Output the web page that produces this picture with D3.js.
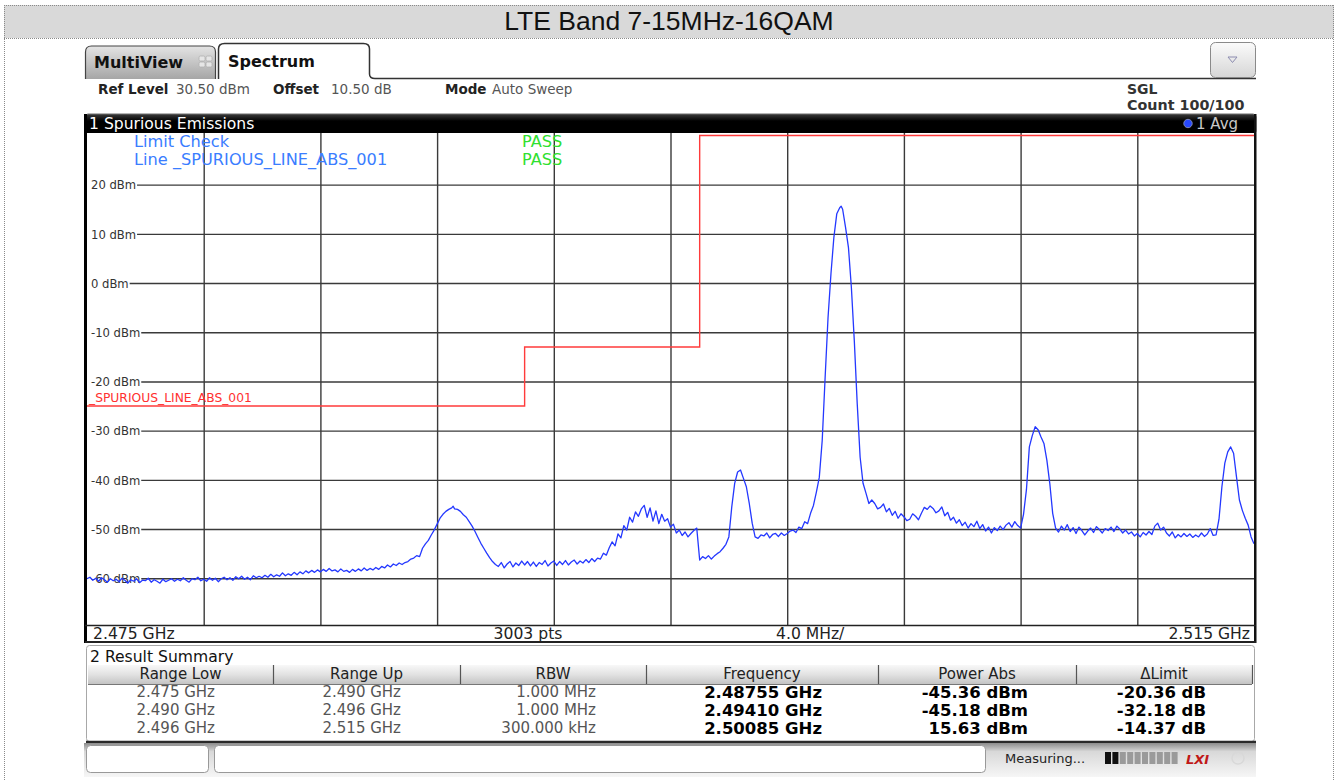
<!DOCTYPE html>
<html>
<head>
<meta charset="utf-8">
<script src="https://cdn.jsdelivr.net/npm/d3@7"></script>
<style>
  html, body { margin: 0; padding: 0; background: #fff; }
  svg { display: block; }
  text { font-family: "DejaVu Sans", Verdana, sans-serif; }
</style>
</head>
<body>
<svg id="chart" width="1338" height="781"></svg>
<script>
// ---- measurement settings ----
const chartTitle = "LTE Band 7-15MHz-16QAM";
const freqStartMHz = 2475;
const freqStopMHz = 2515;
const freqDivMHz = 4;
const sweepPoints = 3003;
const refLevelDbm = 30.5;
const dbPerDiv = 10;
const levelTicks = [20, 10, 0, -10, -20, -30, -40, -50, -60];

// limit line: [start MHz, stop MHz, limit dBm]
const limitSegments = [[2475, 2490, -25], [2490, 2496, -13], [2496, 2515, 30]];
const limitLineName = "_SPURIOUS_LINE_ABS_001";

// averaged trace, 0.1 MHz spacing from 2475.0 MHz (one row per MHz)
const traceStepMHz = 0.1;
const traceLevels = [
  -60.1,-59.8,-60.4,-60.0,-60.6,-59.9,-60.3,-60.8,-60.1,-60.5, // 2475
  -60.2,-60.7,-60.0,-60.4,-61.0,-60.3,-60.6,-60.1,-60.9,-60.4, // 2476
  -60.5,-60.0,-60.8,-60.3,-60.6,-61.0,-60.2,-60.7,-60.4,-60.1, // 2477
  -60.6,-60.2,-60.5,-59.9,-60.4,-60.8,-60.1,-60.3,-59.8,-60.5, // 2478
  -60.2,-60.6,-59.9,-60.4,-60.0,-60.7,-60.1,-59.8,-60.3,-59.9, // 2479
  -60.4,-59.7,-60.1,-59.6,-60.2,-59.8,-60.3,-59.5,-59.9,-59.6, // 2480
  -59.9,-59.4,-59.8,-59.2,-59.7,-59.3,-59.6,-58.9,-59.5,-59.1, // 2481
  -59.4,-58.8,-59.3,-58.7,-59.1,-58.5,-58.9,-58.4,-58.8,-58.3, // 2482
  -58.7,-58.2,-58.6,-58.0,-58.5,-58.3,-58.7,-58.1,-58.6,-58.4, // 2483
  -58.8,-58.2,-58.6,-58.1,-58.5,-57.9,-58.4,-58.0,-58.3,-57.8, // 2484
  -58.2,-57.6,-57.9,-57.3,-57.7,-57.1,-57.4,-56.9,-57.2,-56.8, // 2485
  -56.6,-56.1,-55.9,-55.4,-55.6,-53.9,-53.0,-52.3,-51.2,-50.2, // 2486
  -49.0,-47.8,-47.0,-46.4,-46.0,-45.7,-45.9,-46.0,-46.4,-47.1, // 2487
  -47.6,-48.5,-49.4,-50.5,-51.7,-52.9,-53.9,-54.9,-55.8,-56.6, // 2488
  -57.2,-57.6,-56.8,-57.9,-57.1,-56.6,-57.7,-56.9,-57.4,-56.5, // 2489
  -57.3,-56.6,-57.5,-56.7,-57.6,-56.8,-57.2,-56.4,-57.5,-56.9, // 2490
  -56.5,-57.4,-56.6,-57.2,-56.4,-57.3,-56.7,-56.3,-57.1,-56.5, // 2491
  -56.9,-56.2,-56.8,-56.0,-56.6,-55.9,-56.1,-54.9,-55.3,-53.8, // 2492
  -52.6,-53.4,-51.0,-51.8,-49.3,-50.2,-47.6,-48.6,-46.5,-47.4, // 2493
  -45.9,-45.6,-47.6,-45.7,-48.4,-46.3,-48.9,-47.0,-48.4,-47.9, // 2494
  -49.6,-49.0,-50.8,-50.2,-51.3,-50.6,-51.6,-50.9,-50.3,-49.8, // 2495
  -56.3,-55.6,-56.0,-55.4,-56.1,-55.5,-55.0,-54.6,-53.9,-53.1, // 2496
  -51.6,-45.5,-40.7,-38.4,-38.0,-39.7,-41.4,-44.8,-48.8,-51.6, // 2497
  -51.9,-51.2,-51.4,-50.8,-51.8,-51.1,-50.9,-51.5,-50.8,-51.3, // 2498
  -50.9,-50.4,-50.2,-50.7,-49.6,-49.9,-48.5,-48.9,-46.8,-45.2, // 2499
  -42.5,-39.5,-32.0,-19.2,-7.0,1.9,9.3,14.1,15.3,15.0,          // 2500
  11.3,7.2,-0.9,-11.7,-24.5,-35.4,-40.7,-42.7,-44.8,-44.1,      // 2501
  -44.8,-45.9,-45.6,-44.9,-46.5,-45.8,-47.2,-46.4,-47.8,-46.9, // 2502
  -47.5,-48.3,-48.0,-46.9,-47.4,-48.1,-46.8,-45.6,-46.0,-45.3, // 2503
  -45.8,-46.7,-46.3,-45.5,-47.3,-46.6,-48.2,-47.6,-48.8,-48.1, // 2504
  -49.3,-48.6,-49.8,-48.9,-49.5,-48.4,-49.9,-49.1,-50.4,-49.6, // 2505
  -50.8,-49.7,-50.3,-49.4,-50.1,-49.2,-48.7,-49.6,-48.5,-49.3, // 2506
  -49.8,-47.0,-42.0,-33.3,-31.0,-29.2,-29.8,-31.3,-32.6,-36.0, // 2507
  -40.7,-46.8,-49.8,-50.6,-49.4,-50.2,-49.1,-50.5,-49.7,-50.9, // 2508
  -49.6,-50.3,-51.2,-50.4,-49.8,-50.7,-49.5,-50.1,-50.8,-49.9, // 2509
  -50.3,-49.6,-50.5,-49.4,-50.0,-50.8,-50.2,-51.0,-50.6,-51.4, // 2510
  -50.9,-51.6,-50.7,-51.2,-50.5,-51.1,-49.4,-48.8,-50.2,-49.6, // 2511
  -50.8,-51.4,-50.6,-51.8,-51.1,-51.6,-50.9,-51.5,-51.0,-51.7, // 2512
  -51.2,-51.6,-50.8,-51.5,-51.0,-49.9,-51.3,-51.2,-48.0,-41.4, // 2513
  -36.6,-34.3,-33.3,-34.6,-39.4,-44.1,-46.2,-47.8,-49.2,-51.6, // 2514
  -53.0                                                         // 2515
];

// result summary
const rangeLow = ["2.475 GHz", "2.490 GHz", "2.496 GHz"];
const rangeUp = ["2.490 GHz", "2.496 GHz", "2.515 GHz"];
const rbw = ["1.000 MHz", "1.000 MHz", "300.000 kHz"];
const peakFreqGHz = [2.48755, 2.49410, 2.50085];
const peakPowerDbm = [-45.36, -45.18, 15.63];
const deltaLimitDb = [-20.36, -32.18, -14.37];
const summaryHeaders = ["Range Low", "Range Up", "RBW", "Frequency", "Power Abs", "\u0394Limit"];

// ---- layout ----
const svg = d3.select("#chart");
const plot = { left: 87, right: 1254, top: 133, bottom: 625 };
const plotW = plot.right - plot.left, plotH = plot.bottom - plot.top;

const x = d3.scaleLinear().domain([freqStartMHz, freqStopMHz]).range([plot.left, plot.right]);
const y = d3.scaleLinear().domain([refLevelDbm - 10 * dbPerDiv, refLevelDbm]).range([plot.bottom, plot.top]);

const defs = svg.append("defs");
function vGrad(id, stops) {
  const g = defs.append("linearGradient").attr("id", id).attr("x1", 0).attr("y1", 0).attr("x2", 0).attr("y2", 1);
  stops.forEach(([o, c]) => g.append("stop").attr("offset", o).attr("stop-color", c));
}
vGrad("tabGrey", [[0, "#e4e4e4"], [1, "#a6a6a6"]]);
vGrad("btnGrey", [[0, "#fbfbfb"], [1, "#d6d6d6"]]);
vGrad("hdrGrey", [[0, "#f8f8f8"], [0.5, "#e2e2e2"], [1, "#c4c4c4"]]);
vGrad("barGrey", [[0, "#8c8c8c"], [0.25, "#d8d8d8"], [1, "#f6f6f6"]]);
vGrad("winBar", [[0, "#3a3a3a"], [0.35, "#000"], [1, "#000"]]);
defs.append("clipPath").attr("id", "plotClip")
  .append("rect").attr("x", plot.left).attr("y", plot.top - 2).attr("width", plotW).attr("height", plotH + 2);

function txt(g, xPos, yPos, s, opts = {}) {
  return g.append("text").attr("x", xPos).attr("y", yPos).text(s)
    .attr("font-size", opts.size || 14)
    .attr("font-weight", opts.weight || "normal")
    .attr("fill", opts.fill || "#222")
    .attr("text-anchor", opts.anchor || "start")
    .style("font-family", opts.family || null)
    .style("font-style", opts.style || null);
}

// ---- title band & page frame ----
svg.append("rect").attr("x", 4).attr("y", 5).attr("width", 1330).attr("height", 33).attr("fill", "#d9d9d9");
const dots = svg.append("g").attr("stroke", "#8a8a8a").attr("stroke-width", 1).attr("stroke-dasharray", "1,1");
dots.append("line").attr("x1", 4).attr("x2", 1334).attr("y1", 5.5).attr("y2", 5.5);
dots.append("line").attr("x1", 4).attr("x2", 1334).attr("y1", 38.5).attr("y2", 38.5);
dots.append("line").attr("x1", 4.5).attr("x2", 4.5).attr("y1", 5).attr("y2", 781);
dots.append("line").attr("x1", 1333.5).attr("x2", 1333.5).attr("y1", 5).attr("y2", 781);
txt(svg, 669, 30, chartTitle, { size: 26.5, anchor: "middle", fill: "#111", family: "'Liberation Sans', Arial, sans-serif" });

// ---- tabs ----
const tabs = svg.append("g");
tabs.append("path")
  .attr("d", "M85.5,79 L85.5,52 Q85.5,46 91.5,46 L209.5,46 Q215.5,46 215.5,52 L215.5,79")
  .attr("fill", "url(#tabGrey)").attr("stroke", "#444").attr("stroke-width", 1.2);
txt(tabs, 94, 68, "MultiView", { size: 16, weight: "bold", fill: "#111" });
[[199, 56], [206, 56], [199, 62], [206, 62]].forEach(([a, b]) =>
  tabs.append("rect").attr("x", a).attr("y", b).attr("width", 6).attr("height", 5).attr("rx", 1.5)
    .attr("fill", "#e6e6e6").attr("stroke", "#b0b0b0").attr("stroke-width", 0.8));
tabs.append("path")
  .attr("d", "M218.5,79 L218.5,49 Q218.5,43.5 224.5,43.5 L363.5,43.5 Q369.5,43.5 369.5,49 L369.5,74 Q369.5,78.5 375,78.5 L1256,78.5")
  .attr("fill", "#fff").attr("stroke", "#333").attr("stroke-width", 1.5);
txt(tabs, 228, 67, "Spectrum", { size: 16, weight: "bold", fill: "#111" });
tabs.append("rect").attr("x", 1210.5).attr("y", 42.5).attr("width", 45).attr("height", 35).attr("rx", 5)
  .attr("fill", "url(#btnGrey)").attr("stroke", "#8a8a8a");
tabs.append("path").attr("d", "M1228,57 L1237,57 L1232.5,62.5 Z").attr("fill", "none").attr("stroke", "#8c8cb0").attr("stroke-width", 1);

// ---- setting row ----
const info = svg.append("g");
txt(info, 98, 94, "Ref Level", { size: 13.5, weight: "bold", fill: "#222" });
txt(info, 176, 94, refLevelDbm.toFixed(2) + " dBm", { size: 13.5, fill: "#555" });
txt(info, 273, 94, "Offset", { size: 13.5, weight: "bold", fill: "#222" });
txt(info, 331, 94, "10.50 dB", { size: 13.5, fill: "#555" });
txt(info, 445, 94, "Mode", { size: 13.5, weight: "bold", fill: "#222" });
txt(info, 492, 94, "Auto Sweep", { size: 13.5, fill: "#555" });
txt(info, 1127, 94, "SGL", { size: 14, weight: "bold", fill: "#333" });
txt(info, 1127, 110, "Count 100/100", { size: 14.3, weight: "bold", fill: "#333" });

// ---- window title bar ----
const win = svg.append("g");
win.append("rect").attr("x", 85).attr("y", 114).attr("width", 1171).attr("height", 20).attr("rx", 3)
  .attr("fill", "url(#winBar)").attr("stroke", "#6a6a6a");
txt(win, 89, 129, "1 Spurious Emissions", { size: 15.6, fill: "#fff" });
win.append("circle").attr("cx", 1188).attr("cy", 123.5).attr("r", 4.2).attr("fill", "#2748ff").attr("stroke", "#7d88b8").attr("stroke-width", 1);
txt(win, 1196, 129, "1  Avg", { size: 15, fill: "#c8c8c8" });

// ---- plot area ----
svg.append("rect").attr("x", plot.left).attr("y", plot.top).attr("width", plotW).attr("height", plotH).attr("fill", "#fff");

// vertical grid
const xGrid = svg.append("g").attr("transform", `translate(0,${plot.bottom})`)
  .call(d3.axisBottom(x).tickValues(d3.range(freqStartMHz + freqDivMHz, freqStopMHz, freqDivMHz))
    .tickSize(-plotH).tickFormat(""));
xGrid.select(".domain").remove();
xGrid.selectAll(".tick line").attr("stroke", "#3a3a3a").attr("stroke-width", 1.4);

// horizontal grid with level labels
const yGrid = svg.append("g").attr("transform", `translate(${plot.left},0)`)
  .call(d3.axisLeft(y).tickValues(levelTicks).tickSize(-plotW).tickFormat(d => d + " dBm"));
yGrid.select(".domain").remove();
yGrid.selectAll(".tick text")
  .attr("x", 4).attr("dy", "0.36em").attr("text-anchor", "start")
  .attr("font-size", 11.6).attr("fill", "#333")
  .style("font-family", "'DejaVu Sans', Verdana, sans-serif");
yGrid.selectAll(".tick").each(function () {
  const t = d3.select(this);
  const w = t.select("text").node().getComputedTextLength();
  t.select("line").attr("x1", 4 + w + 1).attr("stroke", "#3a3a3a").attr("stroke-width", 1.4);
});

// limit check annotations
const ann = svg.append("g");
txt(ann, 134, 147, "Limit Check", { size: 16.2, fill: "#3a7dff" });
txt(ann, 134, 165, "Line " + limitLineName, { size: 16.2, fill: "#3a7dff" });
txt(ann, 522, 147, "PASS", { size: 16.2, fill: "#2fe02f" });
txt(ann, 522, 165, "PASS", { size: 16.2, fill: "#2fe02f" });

// limit line (stepped)
const limitPts = [];
limitSegments.forEach(([f0, f1, lv]) => { limitPts.push([f0, lv]); limitPts.push([f1, lv]); });
svg.append("path").datum(limitPts)
  .attr("d", d3.line().x(d => x(d[0])).y(d => y(d[1])))
  .attr("fill", "none").attr("stroke", "#ff3b3b").attr("stroke-width", 1.4);
txt(svg, plot.left + 2, y(limitSegments[0][2]) - 4, limitLineName, { size: 12.3, fill: "#ff3030" });

// trace: uniform sweep points plus the reported peak readings
const peakMHz = peakFreqGHz.map(g => g * 1000);
const tracePts = traceLevels
  .map((lv, i) => [freqStartMHz + i * traceStepMHz, lv])
  .filter(p => !peakMHz.some(f => Math.abs(f - p[0]) < 1e-6))
  .concat(peakMHz.map((f, i) => [f, peakPowerDbm[i]]))
  .sort((a, b) => a[0] - b[0]);
svg.append("path").datum(tracePts)
  .attr("clip-path", "url(#plotClip)")
  .attr("d", d3.line().x(d => x(d[0])).y(d => y(d[1])))
  .attr("fill", "none").attr("stroke", "#2438ff").attr("stroke-width", 1.3).attr("stroke-linejoin", "round");

// frame
const frame = svg.append("g");
frame.append("rect").attr("x", 84).attr("y", 114).attr("width", 3).attr("height", 529).attr("fill", "#000");
frame.append("rect").attr("x", 1254).attr("y", 114).attr("width", 2.5).attr("height", 529).attr("fill", "#111");
frame.append("line").attr("x1", 85).attr("x2", 1256).attr("y1", plot.bottom + 0.5).attr("y2", plot.bottom + 0.5).attr("stroke", "#222").attr("stroke-width", 1.6);
frame.append("line").attr("x1", 85).attr("x2", 1256).attr("y1", 642).attr("y2", 642).attr("stroke", "#222").attr("stroke-width", 2);

// frequency annotation bar
const fbar = svg.append("g");
const ghz = v => (v / 1000).toFixed(3) + " GHz";
txt(fbar, 93, 639, ghz(freqStartMHz), { size: 15.6, fill: "#222" });
txt(fbar, 528, 639, sweepPoints + " pts", { size: 15.6, fill: "#222", anchor: "middle" });
txt(fbar, 776, 639, freqDivMHz.toFixed(1) + " MHz/", { size: 15.6, fill: "#222" });
txt(fbar, 1250, 639, ghz(freqStopMHz), { size: 15.6, fill: "#222", anchor: "end" });

// ---- result summary ----
const rs = svg.append("g");
rs.append("rect").attr("x", 86.5).attr("y", 645.5).attr("width", 1168).attr("height", 96).attr("rx", 3)
  .attr("fill", "#fff").attr("stroke", "#a8a8a8");
rs.append("line").attr("x1", 86).attr("x2", 1256).attr("y1", 742).attr("y2", 742).attr("stroke", "#2a2a2a").attr("stroke-width", 2.5);
txt(rs, 90, 662, "2 Result Summary", { size: 15.6, fill: "#111" });
const colEdges = [88, 273, 460, 646, 878, 1076, 1252];
rs.append("rect").attr("x", colEdges[0]).attr("y", 665).attr("width", colEdges[6] - colEdges[0]).attr("height", 19)
  .attr("fill", "url(#hdrGrey)");
rs.append("line").attr("x1", colEdges[0]).attr("x2", colEdges[6]).attr("y1", 684.5).attr("y2", 684.5).attr("stroke", "#777");
colEdges.slice(1).forEach(e => rs.append("line").attr("x1", e + 0.5).attr("x2", e + 0.5).attr("y1", 665).attr("y2", 684)
  .attr("stroke", "#555").attr("stroke-width", 1.2));
summaryHeaders.forEach((h, i) =>
  txt(rs, (colEdges[i] + colEdges[i + 1]) / 2, 678.5, h, { size: 15, fill: "#222", anchor: "middle" }));

const rowBase = [698, 716, 734];
const greyCols = [[rangeLow, 215], [rangeUp, 401], [rbw, 596]];
greyCols.forEach(([vals, xr]) => vals.forEach((v, r) =>
  txt(rs, xr, rowBase[r] - 1, v, { size: 15, fill: "#555", anchor: "end" })));
const boldCols = [
  [peakFreqGHz.map(v => v.toFixed(5) + " GHz"), 822],
  [peakPowerDbm.map(v => v.toFixed(2) + " dBm"), 1028],
  [deltaLimitDb.map(v => v.toFixed(2) + " dB"), 1206]
];
boldCols.forEach(([vals, xr]) => vals.forEach((v, r) =>
  txt(rs, xr, rowBase[r], v, { size: 16.5, weight: "bold", fill: "#000", anchor: "end" })));

// ---- status bar ----
const sb = svg.append("g");
sb.append("rect").attr("x", 84).attr("y", 743).attr("width", 1172).attr("height", 34).attr("fill", "url(#barGrey)");
sb.append("rect").attr("x", 86.5).attr("y", 745.5).attr("width", 122).attr("height", 27).attr("rx", 4).attr("fill", "#fff").attr("stroke", "#999");
sb.append("rect").attr("x", 214.5).attr("y", 745.5).attr("width", 771).attr("height", 27).attr("rx", 4).attr("fill", "#fff").attr("stroke", "#999");
txt(sb, 1005, 763, "Measuring...", { size: 13, fill: "#222" });
d3.range(10).forEach(i => sb.append("rect").attr("x", 1105 + i * 7.4).attr("y", 752).attr("width", 6).attr("height", 12)
  .attr("fill", i < 2 ? "#111" : "#9a9a9a"));
txt(sb, 1186, 764, "LXI", { size: 13, weight: "bold", fill: "#c01818", style: "italic" });
sb.append("circle").attr("cx", 1238).attr("cy", 758).attr("r", 6).attr("fill", "none").attr("stroke", "#d8d8d8").attr("stroke-width", 1.5);
</script>
</body>
</html>
